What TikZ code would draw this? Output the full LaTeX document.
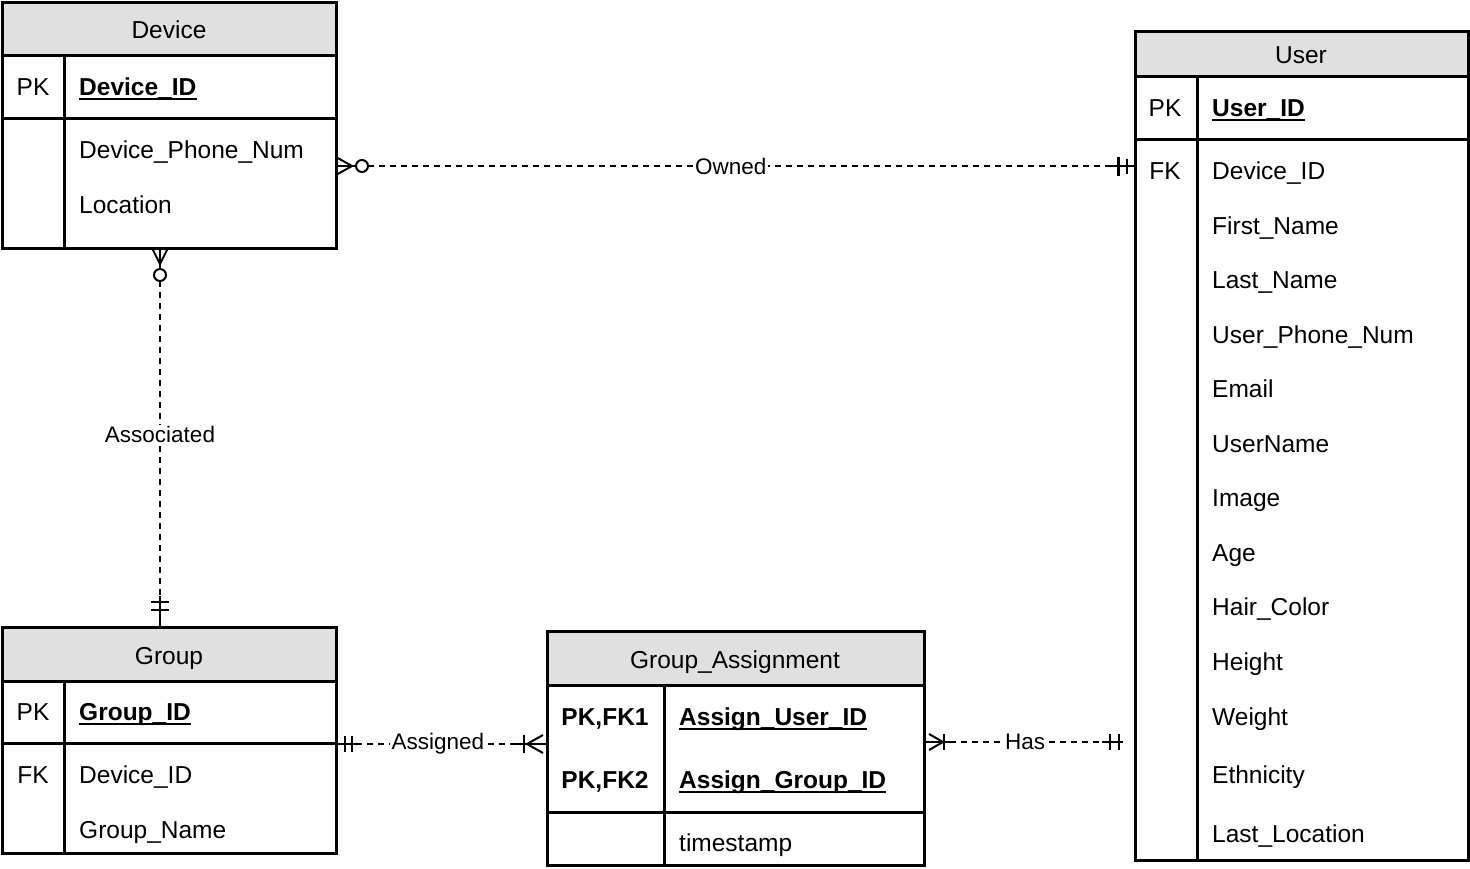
\documentclass[tikz,border=0pt]{standalone}
\usepackage{fontspec}
\setmainfont{Liberation Sans}
\definecolor{hdrgray}{HTML}{E0E0E0}
\begin{document}
\begin{tikzpicture}[x=1pt,y=-1pt,
  tbl/.style={draw, line width=3pt, inner sep=0pt, outer sep=0pt, anchor=north west},
  sep/.style={line width=3pt},
  txt/.style={anchor=base west, inner sep=0pt, font=\fontsize{24.5}{29}\selectfont},
  ctxt/.style={anchor=base, inner sep=0pt, font=\fontsize{24.5}{29}\selectfont},
  btxt/.style={anchor=base west, inner sep=0pt, font=\fontsize{24.5}{29}\selectfont\bfseries},
  bctxt/.style={anchor=base, inner sep=0pt, font=\fontsize{24.5}{29}\selectfont\bfseries},
  ul/.style={line width=1.8pt},
  conn/.style={line width=2pt, dash pattern=on 6pt off 5pt},
  lbl/.style={fill=white, inner sep=2pt, font=\fontsize{22.5}{27}\selectfont},
  endmk/.style={line width=2pt}
]
\useasboundingbox (0,0) rectangle (1470,868);

% ---------- Device ----------
\fill[hdrgray] (2,2) rectangle (336,55);
\node[tbl, minimum width=334pt, minimum height=246pt] (device) at (2,2) {};
\draw[sep] (2,55) -- (336,55) (2,118) -- (336,118) (64,55) -- (64,248);
\node[ctxt] (devh) at (169,38) {Device};
\node[ctxt] (devpk) at (33,95) {PK};
\node[btxt] (devid) at (79,95) {Device\_ID};
\draw[ul] ([yshift=-4pt]devid.base west) -- ([yshift=-4pt]devid.base east);
\node[txt] (devf1) at (79,158) {Device\_Phone\_Num};
\node[txt] (devf2) at (79,213) {Location};

% ---------- User ----------
\fill[hdrgray] (1135,31) rectangle (1468,76);
\node[tbl, minimum width=333pt, minimum height=829pt] (user) at (1135,31) {};
\draw[sep] (1135,76) -- (1468,76) (1135,139) -- (1468,139) (1197,76) -- (1197,860);
\node[ctxt] (userh) at (1301,63) {User};
\node[ctxt] (userpk) at (1165,116) {PK};
\node[btxt] (userid) at (1212,116) {User\_ID};
\draw[ul] ([yshift=-4pt]userid.base west) -- ([yshift=-4pt]userid.base east);
\node[ctxt] (userfk) at (1165,179) {FK};
\node[txt] (uf1) at (1212,179) {Device\_ID};
\node[txt] (uf2) at (1212,234) {First\_Name};
\node[txt] (uf3) at (1212,288) {Last\_Name};
\node[txt] (uf4) at (1212,343) {User\_Phone\_Num};
\node[txt] (uf5) at (1212,397) {Email};
\node[txt] (uf6) at (1212,452) {UserName};
\node[txt] (uf7) at (1212,506) {Image};
\node[txt] (uf8) at (1212,561) {Age};
\node[txt] (uf9) at (1212,615) {Hair\_Color};
\node[txt] (uf10) at (1212,670) {Height};
\node[txt] (uf11) at (1212,725) {Weight};
\node[txt] (uf12) at (1212,783) {Ethnicity};
\node[txt] (uf13) at (1212,842) {Last\_Location};

% ---------- Group ----------
\fill[hdrgray] (2,627) rectangle (336,681);
\node[tbl, minimum width=334pt, minimum height=226pt] (group) at (2,627) {};
\draw[sep] (2,681) -- (336,681) (2,743) -- (336,743) (64,681) -- (64,853);
\node[ctxt] (grph) at (169,664) {Group};
\node[ctxt] (grppk) at (33,720) {PK};
\node[btxt] (grpid) at (79,720) {Group\_ID};
\draw[ul] ([yshift=-4pt]grpid.base west) -- ([yshift=-4pt]grpid.base east);
\node[ctxt] (grpfk) at (33,783) {FK};
\node[txt] (gf1) at (79,783) {Device\_ID};
\node[txt] (gf2) at (79,838) {Group\_Name};

% ---------- Group_Assignment ----------
\fill[hdrgray] (547,631) rectangle (924,685);
\node[tbl, minimum width=377pt, minimum height=234pt] (ga) at (547,631) {};
\draw[sep] (547,685) -- (924,685) (547,812) -- (924,812) (664,685) -- (664,865);
\node[ctxt] (gah) at (735,668) {Group\_Assignment};
\node[bctxt] (gapk1) at (605,725) {PK,FK1};
\node[btxt] (gaf1) at (679,725) {Assign\_User\_ID};
\draw[ul] ([yshift=-4pt]gaf1.base west) -- ([yshift=-4pt]gaf1.base east);
\node[bctxt] (gapk2) at (605,788) {PK,FK2};
\node[btxt] (gaf2) at (679,788) {Assign\_Group\_ID};
\draw[ul] ([yshift=-4pt]gaf2.base west) -- ([yshift=-4pt]gaf2.base east);
\node[txt] (gaf3) at (679,851) {timestamp};

% ---------- Connectors ----------
% Owned
\draw[conn, shorten <=32pt, shorten >=22pt] (device.east |- 0,166) -- node[lbl, pos=0.494] {Owned} (user.west |- 0,166);
\draw[endmk] (336,157) -- (352,166) -- (336,175);
\draw[endmk] (336,166) -- (356,166);
\draw[endmk, fill=white] (362,166) circle (6pt);
\draw[endmk] (1110,166) -- (1135,166);
\draw[line width=3pt] (1118,157) -- (1118,176);
\draw[endmk] (1127,159) -- (1127,174);

% Associated
\draw[conn, shorten <=33pt] (device.south -| 160,0) -- node[lbl, pos=0.493] {Associated} (group.north -| 160,0);
\draw[endmk] (152,248) -- (160,264) -- (168,248);
\draw[endmk] (160,248) -- (160,269);
\draw[endmk, fill=white] (160,275) circle (6pt);
\draw[endmk] (160,596) -- (160,627);
\draw[line width=2.5pt] (151,602) -- (169,602);
\draw[line width=2.5pt] (151,610) -- (169,610);

% Assigned
\draw[conn, shorten <=20pt, shorten >=28pt] (group.east |- 0,744) -- node[lbl, pos=0.483] {Assigned} (ga.west |- 0,744);
\draw[endmk] (336,744) -- (358,744);
\draw[endmk] (345,736) -- (345,752);
\draw[endmk] (352,736) -- (352,752);
\draw[endmk] (515,744) -- (547,744);
\draw[endmk] (543,735) -- (527,744) -- (543,753);
\draw[endmk] (524,735) -- (524,753);

% Has
\draw[conn, shorten <=26pt, shorten >=12pt] (ga.east |- 0,742) -- node[lbl, pos=0.479] {Has} (user.west |- 0,742);
\draw[endmk] (924,742) -- (952,742);
\draw[endmk] (929,734) -- (943,742) -- (929,750);
\draw[endmk] (944,734) -- (944,750);
\draw[endmk] (1102,742) -- (1123,742);
\draw[endmk] (1110,734) -- (1110,750);
\draw[endmk] (1119,734) -- (1119,750);
\end{tikzpicture}
\end{document}
